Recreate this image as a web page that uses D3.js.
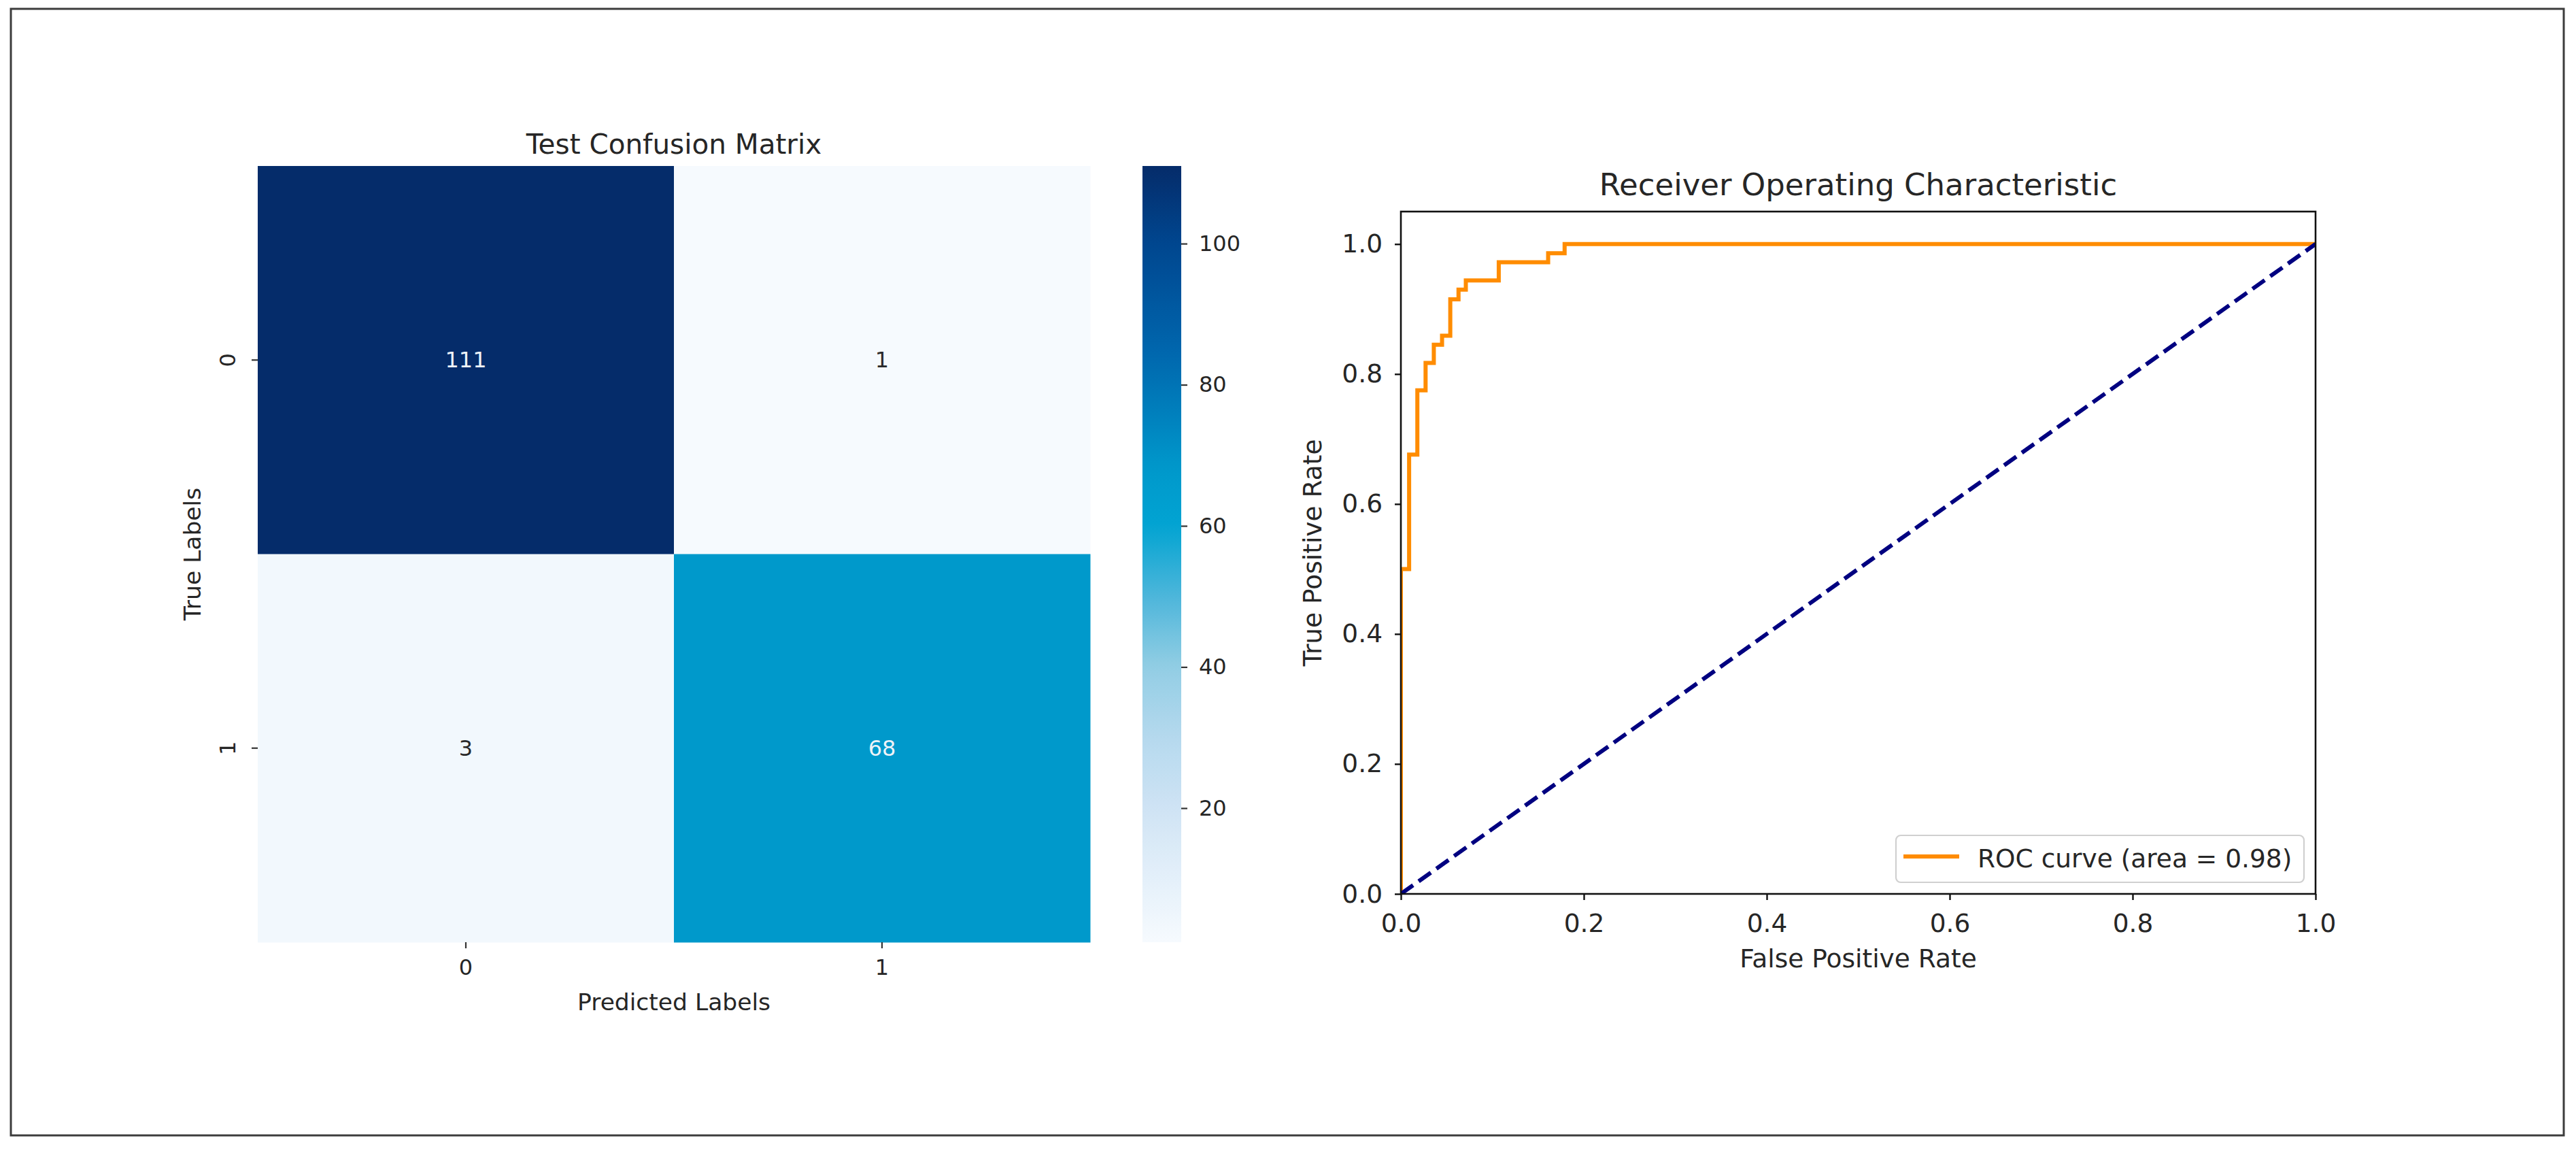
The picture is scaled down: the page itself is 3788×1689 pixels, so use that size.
<!DOCTYPE html>
<html>
<head>
<meta charset="utf-8">
<script src="https://cdn.jsdelivr.net/npm/d3@7"></script>
<style>
  html, body { margin: 0; padding: 0; background: #ffffff; }
  svg { display: block; }
  text { font-family: "DejaVu Sans", sans-serif; fill: #262626; }
</style>
</head>
<body>
<script>
// ---------- DATA ----------
const cmRows = ["0", "1"];            // true labels
const cmCols = ["0", "1"];            // predicted labels
const cmValues = [[111, 1], [3, 68]];
const cbTicks = [20, 40, 60, 80, 100];

const rocFpr = [0, 0, 0.009, 0.009, 0.018, 0.018, 0.027, 0.027, 0.036, 0.036, 0.045, 0.045,
                0.054, 0.054, 0.063, 0.063, 0.071, 0.071, 0.107, 0.107, 0.161, 0.161, 0.179, 0.179, 1.0];
const rocTpr = [0, 0.50, 0.50, 0.676, 0.676, 0.775, 0.775, 0.817, 0.817, 0.845, 0.845, 0.859,
                0.859, 0.915, 0.915, 0.930, 0.930, 0.944, 0.944, 0.972, 0.972, 0.986, 0.986, 1.0, 1.0];
const diagX = [0, 1];
const diagY = [0, 1];
const rocTicks = [0, 0.2, 0.4, 0.6, 0.8, 1.0];
const rocAuc = 0.98;

// colour map stops (value -> colour), sampled from the colour bar
const cmapVals = [1, 10, 20, 30, 40, 50, 60, 68, 75, 85, 100, 111];
const cmapCols = ["#f6fafe", "#e4f0fa", "#cfe3f4", "#b5d9ee", "#92cde4", "#4db6da",
                  "#02a4d2", "#0099cb", "#0082be", "#0066ad", "#00468f", "#052c6a"];

// ---------- SETUP ----------
const W = 3788, H = 1689;
const svg = d3.select("body").append("svg").attr("width", W).attr("height", H);
svg.append("rect").attr("x", 0).attr("y", 0).attr("width", W).attr("height", H).attr("fill", "#fff");
svg.append("rect").attr("x", 16).attr("y", 13).attr("width", 3754).attr("height", 1656)
   .attr("fill", "none").attr("stroke", "#3c3c3c").attr("stroke-width", 3);

const color = d3.scaleLinear().domain(cmapVals).range(cmapCols).interpolate(d3.interpolateRgb);

// ---------- CONFUSION MATRIX ----------
const hm = { left: 379, right: 1603, top: 244, bottom: 1385 };
const fsL = 32;
const xB = d3.scaleBand().domain(cmCols).range([hm.left, hm.right]);
const yB = d3.scaleBand().domain(cmRows).range([hm.top, hm.bottom]);

const cells = [];
cmRows.forEach((r, i) => cmCols.forEach((c, j) => cells.push({ r, c, v: cmValues[i][j] })));

const gHm = svg.append("g");
gHm.selectAll("rect.cell").data(cells).enter().append("rect")
  .attr("class", "cell")
  .attr("x", d => xB(d.c)).attr("y", d => yB(d.r))
  .attr("width", xB.bandwidth() + 0.5).attr("height", yB.bandwidth() + 0.5)
  .attr("fill", d => color(d.v));

gHm.selectAll("text.annot").data(cells).enter().append("text")
  .attr("class", "annot")
  .attr("x", d => xB(d.c) + xB.bandwidth() / 2)
  .attr("y", d => yB(d.r) + yB.bandwidth() / 2)
  .attr("text-anchor", "middle").attr("dominant-baseline", "central")
  .style("font-size", fsL + "px")
  .style("fill", d => d.v > 40 ? "#eef3f8" : "#2a2a2a")
  .text(d => d.v);

// x axis (predicted)
const xAxisHm = d3.axisBottom(xB).tickSize(9).tickPadding(16);
const gxh = svg.append("g").attr("transform", `translate(0,${hm.bottom})`).call(xAxisHm);
gxh.select(".domain").remove();
gxh.selectAll(".tick line").attr("stroke", "#333").attr("stroke-width", 2.2);
gxh.selectAll(".tick text").style("font-size", fsL + "px").style("fill", "#262626")
   .attr("font-family", "DejaVu Sans");

// y axis (true) — ticks + rotated labels
const gyh = svg.append("g");
gyh.selectAll("line").data(cmRows).enter().append("line")
  .attr("x1", hm.left - 9).attr("x2", hm.left)
  .attr("y1", d => yB(d) + yB.bandwidth() / 2).attr("y2", d => yB(d) + yB.bandwidth() / 2)
  .attr("stroke", "#333").attr("stroke-width", 2.2);
gyh.selectAll("text").data(cmRows).enter().append("text")
  .attr("transform", d => `translate(${hm.left - 44},${yB(d) + yB.bandwidth() / 2}) rotate(-90)`)
  .attr("text-anchor", "middle").attr("dominant-baseline", "central")
  .style("font-size", fsL + "px").text(d => d);

svg.append("text").attr("x", (hm.left + hm.right) / 2).attr("y", 226)
  .attr("text-anchor", "middle").style("font-size", "40.5px").text("Test Confusion Matrix");
svg.append("text").attr("x", (hm.left + hm.right) / 2).attr("y", 1473)
  .attr("text-anchor", "middle").attr("dominant-baseline", "central")
  .style("font-size", "34.5px").text("Predicted Labels");
svg.append("text").attr("transform", `translate(283,${(hm.top + hm.bottom) / 2}) rotate(-90)`)
  .attr("text-anchor", "middle").attr("dominant-baseline", "central")
  .style("font-size", "34.5px").text("True Labels");

// colour bar
const cb = { left: 1680, right: 1737 };
const cbScale = d3.scaleLinear().domain([d3.min(cmValues.flat()), d3.max(cmValues.flat())])
  .range([hm.bottom, hm.top]);
const defs = svg.append("defs");
const grad = defs.append("linearGradient").attr("id", "cbgrad")
  .attr("x1", 0).attr("y1", 1).attr("x2", 0).attr("y2", 0);
const [vmin, vmax] = cbScale.domain();
d3.range(0, 1.0001, 0.02).forEach(t => {
  grad.append("stop").attr("offset", t).attr("stop-color", color(vmin + t * (vmax - vmin)));
});
svg.append("rect").attr("x", cb.left).attr("y", hm.top)
  .attr("width", cb.right - cb.left).attr("height", hm.bottom - hm.top)
  .attr("fill", "url(#cbgrad)");
const gcb = svg.append("g").attr("transform", `translate(${cb.right},0)`)
  .call(d3.axisRight(cbScale).tickValues(cbTicks).tickSize(9).tickPadding(17));
gcb.select(".domain").remove();
gcb.selectAll(".tick line").attr("stroke", "#333").attr("stroke-width", 2.2);
gcb.selectAll(".tick text").style("font-size", fsL + "px").style("fill", "#262626")
   .attr("font-family", "DejaVu Sans");

// ---------- ROC ----------
const ax = { left: 2060, right: 3405, top: 311, bottom: 1314 };
const fsR = 37.5;
const xS = d3.scaleLinear().domain([0, 1]).range([ax.left, ax.right]);
const yS = d3.scaleLinear().domain([0, 1.05]).range([ax.bottom, ax.top]);

const clip = defs.append("clipPath").attr("id", "rocclip");
clip.append("rect").attr("x", ax.left).attr("y", ax.top)
  .attr("width", ax.right - ax.left).attr("height", ax.bottom - ax.top);

const line = d3.line().x(d => xS(d[0])).y(d => yS(d[1]));
const gPlot = svg.append("g").attr("clip-path", "url(#rocclip)");
gPlot.append("path").datum(rocFpr.map((f, i) => [f, rocTpr[i]]))
  .attr("d", line).attr("fill", "none").attr("stroke", "#ff8c00")
  .attr("stroke-width", 6).attr("stroke-linejoin", "miter").attr("stroke-linecap", "square");
gPlot.append("path").datum(diagX.map((f, i) => [f, diagY[i]]))
  .attr("d", line).attr("fill", "none").attr("stroke", "#000080")
  .attr("stroke-width", 6).attr("stroke-dasharray", "22,10");

// spines
svg.append("rect").attr("x", ax.left).attr("y", ax.top)
  .attr("width", ax.right - ax.left).attr("height", ax.bottom - ax.top)
  .attr("fill", "none").attr("stroke", "#111").attr("stroke-width", 2.6);

const gx = svg.append("g").attr("transform", `translate(0,${ax.bottom})`)
  .call(d3.axisBottom(xS).tickValues(rocTicks).tickFormat(d3.format(".1f")).tickSize(9).tickPadding(20));
gx.select(".domain").remove();
gx.selectAll(".tick line").attr("stroke", "#111").attr("stroke-width", 2.4);
gx.selectAll(".tick text").style("font-size", fsR + "px").style("fill", "#262626")
  .attr("font-family", "DejaVu Sans");

const gy = svg.append("g").attr("transform", `translate(${ax.left},0)`)
  .call(d3.axisLeft(yS).tickValues(rocTicks).tickFormat(d3.format(".1f")).tickSize(9).tickPadding(18));
gy.select(".domain").remove();
gy.selectAll(".tick line").attr("stroke", "#111").attr("stroke-width", 2.4);
gy.selectAll(".tick text").style("font-size", fsR + "px").style("fill", "#262626")
  .attr("font-family", "DejaVu Sans");

svg.append("text").attr("x", (ax.left + ax.right) / 2).attr("y", 287)
  .attr("text-anchor", "middle").style("font-size", "45px").text("Receiver Operating Characteristic");
svg.append("text").attr("x", (ax.left + ax.right) / 2).attr("y", 1409)
  .attr("text-anchor", "middle").attr("dominant-baseline", "central")
  .style("font-size", fsR + "px").text("False Positive Rate");
svg.append("text").attr("transform", `translate(1930,${(ax.top + ax.bottom) / 2}) rotate(-90)`)
  .attr("text-anchor", "middle").attr("dominant-baseline", "central")
  .style("font-size", fsR + "px").text("True Positive Rate");

// legend
const lg = svg.append("g");
lg.append("rect").attr("x", 2788).attr("y", 1228).attr("width", 600).attr("height", 69)
  .attr("rx", 7).attr("fill", "#fff").attr("fill-opacity", 0.8)
  .attr("stroke", "#d0d0d0").attr("stroke-width", 2.2);
lg.append("line").attr("x1", 2799).attr("x2", 2881).attr("y1", 1259).attr("y2", 1259)
  .attr("stroke", "#ff8c00").attr("stroke-width", 6);
lg.append("text").attr("x", 2908).attr("y", 1262).attr("dominant-baseline", "central")
  .style("font-size", fsR + "px").text(`ROC curve (area = ${rocAuc.toFixed(2)})`);
</script>
</body>
</html>
